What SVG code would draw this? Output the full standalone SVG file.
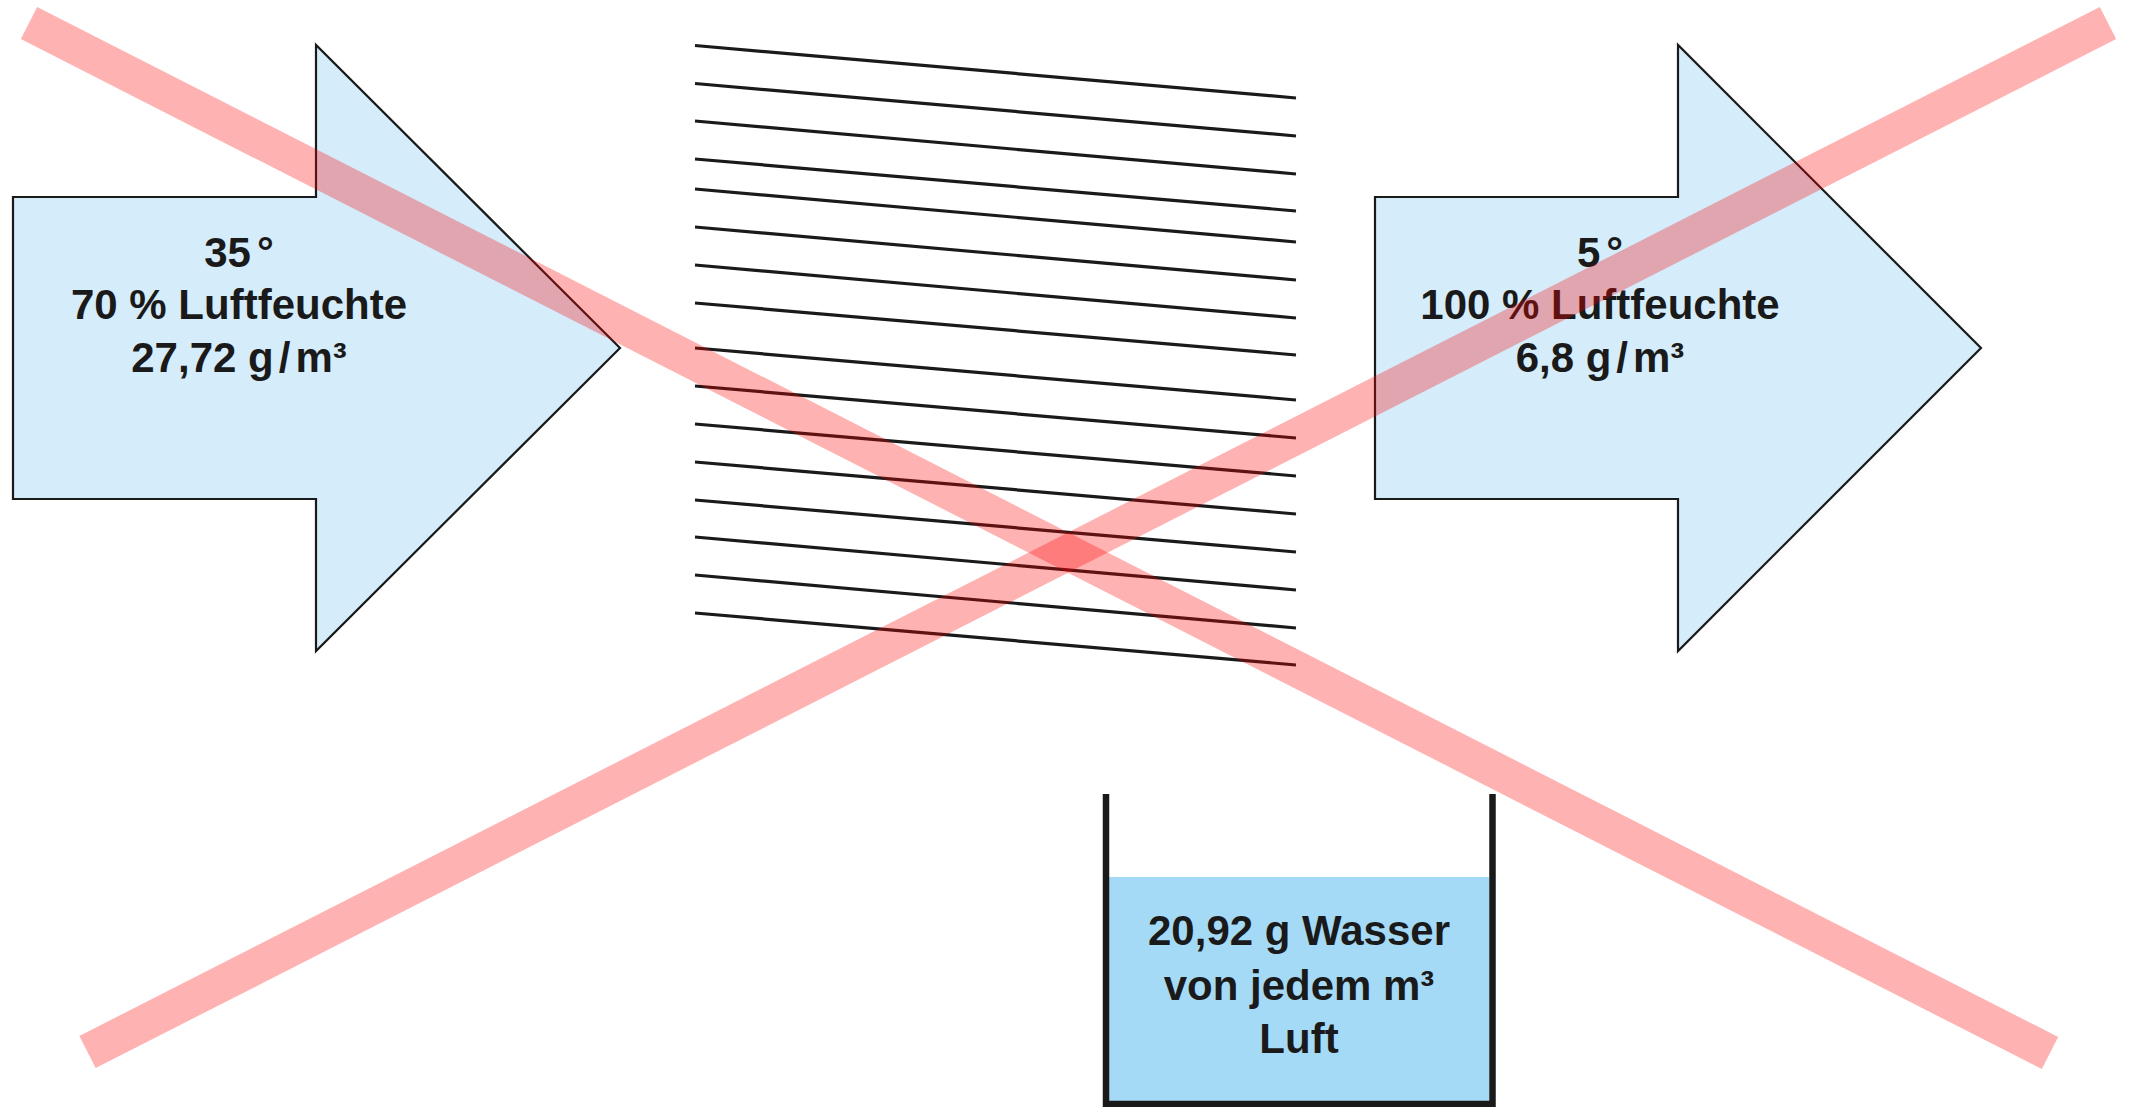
<svg xmlns="http://www.w3.org/2000/svg" width="2132" height="1107" viewBox="0 0 2132 1107">
<style>
.arrow{fill:#d5ecfb;stroke:#1a1a1a;stroke-width:2.2}
.t{font-family:"Liberation Sans",Arial,sans-serif;font-weight:bold;font-size:42px;fill:#1a1a1a;text-anchor:middle}
.slat{stroke:#1a1a1a;stroke-width:3.2;fill:none}
.wall{stroke:#1a1a1a;stroke-width:6.5;fill:none}
.cross{stroke:#ff0000;stroke-opacity:0.3;stroke-width:36;fill:none}
</style>
<rect width="2132" height="1107" fill="#ffffff"/>
<g id="arrow-in">
<polygon class="arrow" points="13,197 316,197 316,45 620,348 316,651 316,499 13,499"/>
<text class="t" x="239" y="267">35<tspan dx="6">°</tspan></text>
<text class="t" x="239" y="319">70 % Luftfeuchte</text>
<text class="t" x="239" y="372">27,72 g<tspan dx="5">/</tspan><tspan dx="5">m³</tspan></text>
</g>
<g id="arrow-out">
<polygon class="arrow" points="1375,197 1678,197 1678,45 1981,348 1678,651 1678,499 1375,499"/>
<text class="t" x="1600" y="267">5<tspan dx="6">°</tspan></text>
<text class="t" x="1600" y="319">100 % Luftfeuchte</text>
<text class="t" x="1600" y="372">6,8 g<tspan dx="5">/</tspan><tspan dx="5">m³</tspan></text>
</g>
<g id="cooler">
<line class="slat" x1="695" y1="45.5" x2="1296" y2="98"/>
<line class="slat" x1="695" y1="83.5" x2="1296" y2="136"/>
<line class="slat" x1="695" y1="121" x2="1296" y2="174"/>
<line class="slat" x1="695" y1="159" x2="1296" y2="211"/>
<line class="slat" x1="695" y1="189" x2="1296" y2="242"/>
<line class="slat" x1="695" y1="227" x2="1296" y2="280"/>
<line class="slat" x1="695" y1="265" x2="1296" y2="318"/>
<line class="slat" x1="695" y1="303" x2="1296" y2="355"/>
<line class="slat" x1="695" y1="348" x2="1296" y2="400"/>
<line class="slat" x1="695" y1="386" x2="1296" y2="438"/>
<line class="slat" x1="695" y1="424" x2="1296" y2="476"/>
<line class="slat" x1="695" y1="462" x2="1296" y2="514"/>
<line class="slat" x1="695" y1="500" x2="1296" y2="552"/>
<line class="slat" x1="695" y1="537" x2="1296" y2="590"/>
<line class="slat" x1="695" y1="575" x2="1296" y2="628"/>
<line class="slat" x1="695" y1="613" x2="1296" y2="665"/>
</g>
<g id="bucket">
<rect x="1109" y="877" width="380" height="225" fill="#a5daf7"/>
<polyline class="wall" points="1106,794 1106,1104 1492.5,1104 1492.5,794"/>
<text class="t" x="1299" y="945">20,92 g Wasser</text>
<text class="t" x="1299" y="1000">von jedem m³</text>
<text class="t" x="1299" y="1053">Luft</text>
</g>
<g id="connectors">
<line class="cross" x1="29" y1="23" x2="2050" y2="1053"/>
<line class="cross" x1="87.5" y1="1052" x2="2108" y2="23"/>
</g>
</svg>
